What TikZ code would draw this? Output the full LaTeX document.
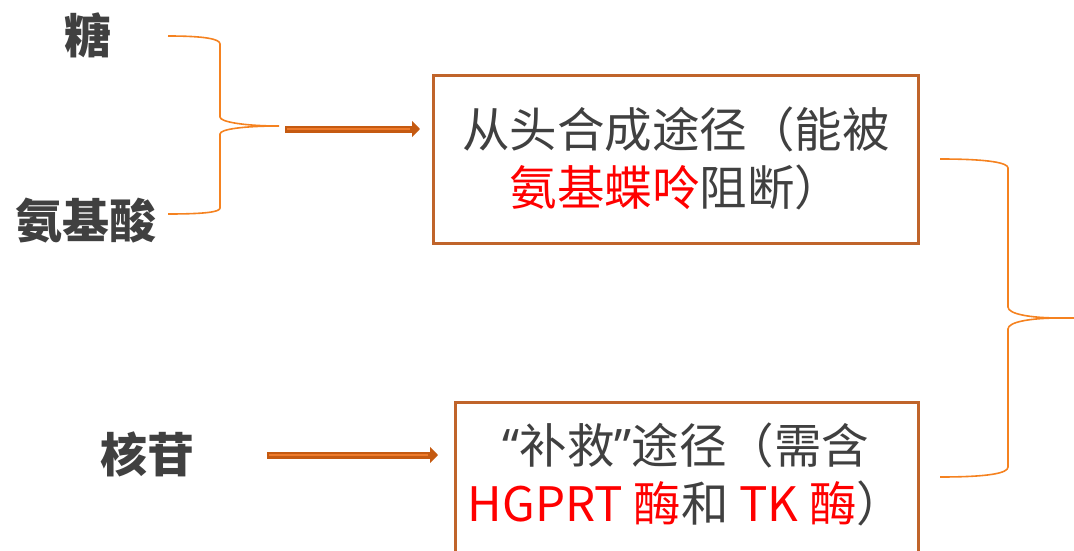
\documentclass[tikz,border=0pt]{standalone}
\usepackage{fontspec}
\setmainfont{Noto Sans CJK SC}
\newfontfamily\latq{Noto Sans}
\usetikzlibrary{arrows.meta}
\definecolor{txt}{HTML}{404040}
\definecolor{brace}{HTML}{F58220}
\definecolor{boxc}{HTML}{C0642A}
\definecolor{arrout}{HTML}{C55A11}
\definecolor{arrin}{HTML}{EE7A2A}
\definecolor{hl}{HTML}{FF0000}
\tikzset{
  lbl/.style={anchor=base, inner sep=0pt, text=txt, font=\fontsize{47}{59}\selectfont\bfseries},
  boxtxt/.style={anchor=base, inner sep=0pt, text=txt, align=center, font=\fontsize{47.5}{58}\selectfont},
  pbox/.style={draw=boxc, line width=3pt, inner sep=0pt},
  bracestroke/.style={draw=brace, line width=1.6pt},
  fatarrow/.style={draw=arrout, line width=7pt, -{Triangle[length=8pt,width=16pt]}},
  fatinner/.style={draw=arrin, line width=2.2pt}
}
\begin{document}
\begin{tikzpicture}[x=1pt,y=-1pt]
\useasboundingbox (0,0) rectangle (1074,551);
% left labels
\node[lbl] (tang) at (88,54) {糖};
\node[lbl] (anjisuan) at (86,238) {氨基酸};
\node[lbl] (hegan) at (147,472) {核苷};
% left brace
\coordinate (tip1) at (279,126);
\draw[bracestroke] (168,36) .. controls (205,36) and (220,39) .. (220,44) -- (220,117)
  .. controls (220,122) and (245,126) .. (tip1)
  .. controls (245,126) and (220,129) .. (220,134) -- (220,208)
  .. controls (220,212) and (205,214) .. (168,214);
% boxes
\node[pbox, minimum width=485pt, minimum height=167pt] (b1) at (675.5,159.5) {};
\node[pbox, minimum width=463pt, minimum height=200pt] (b2) at (686.5,502) {};
\node[boxtxt] (t1) at (676,205) {从头合成途径（能被\\\textcolor{hl}{氨基蝶呤}阻断）};
\node[boxtxt] (t2) at (686,521) {{\latq “}补救{\latq ”}途径（需含\\\textcolor{hl}{HGPRT 酶}和 \textcolor{hl}{TK 酶}）};
% arrows
\coordinate (a1s) at (285,129);
\coordinate (a1e) at (420,129);
\coordinate (a2s) at (267,455);
\coordinate (a2e) at (438,455);
\draw[fatarrow] (a1s) -- (a1e);
\draw[fatinner] ([xshift=2pt]a1s) -- ([xshift=-10pt]a1e);
\draw[fatarrow] (a2s) -- (a2e);
\draw[fatinner] ([xshift=2pt]a2s) -- ([xshift=-10pt]a2e);
% right brace
\coordinate (tip2) at (1074,318);
\draw[bracestroke] (940,159) .. controls (990,159) and (1008,163) .. (1008,168) -- (1008,307)
  .. controls (1008,314) and (1030,318) .. (1060,318) -- (tip2);
\draw[bracestroke] (tip2) -- (1060,318) .. controls (1030,318) and (1008,322) .. (1008,329) -- (1008,467)
  .. controls (1008,473) and (990,477) .. (940,477);
\end{tikzpicture}
\end{document}
